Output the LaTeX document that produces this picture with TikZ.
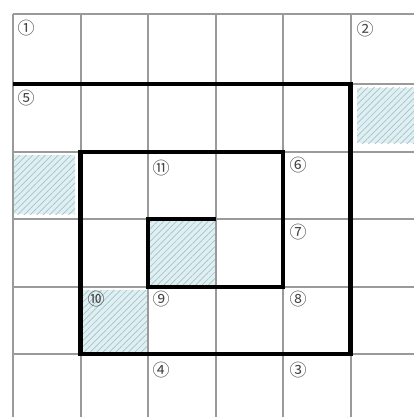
\documentclass[tikz,border=0pt]{standalone}
\usepackage{fontspec}
\newfontfamily\circfont{Noto Sans CJK SC}
\usetikzlibrary{patterns.meta}
\definecolor{gridgray}{HTML}{9A9A9A}
\definecolor{shadefill}{HTML}{DDF1F4}
\definecolor{hatchcol}{HTML}{B0BEC2}
\definecolor{labcol}{HTML}{444444}
\tikzset{
  gridline/.style={draw=gridgray, line width=2pt},
  spiral/.style={draw=black, line width=4.5pt, line join=miter},
  shaded/.style={fill=shadefill, postaction={pattern={Lines[angle=45,distance=4.5pt,line width=0.7pt]}, pattern color=hatchcol}},
  lab/.style={font=\circfont\fontsize{17}{17}\selectfont, text=labcol, inner sep=0pt}
}
\begin{document}
\begin{tikzpicture}[x=1pt,y=-1pt]
\useasboundingbox (0,0) rectangle (414,417);
\fill[white] (0,0) rectangle (414,417);
% shaded cells
\path[shaded] (357,88) rectangle (414,143);
\path[shaded] (14,155) rectangle (75,214);
\path[shaded] (148,219) rectangle (215.5,287);
\path[shaded] (82,290) rectangle (147,352);
% grid
\foreach \x in {13,80.5,148,215.5,283,350.5}
  \draw[gridline] (\x,14) -- (\x,417);
\foreach \y in {14,84,152,219,287,354}
  \draw[gridline] (13,\y) -- (414,\y);
% spiral
\coordinate (s0) at (13,84);
\coordinate (s1) at (350.5,84);
\coordinate (s2) at (350.5,354);
\coordinate (s3) at (80.5,354);
\coordinate (s4) at (80.5,152);
\coordinate (s5) at (283,152);
\coordinate (s6) at (283,287);
\coordinate (s7) at (148,287);
\coordinate (s8) at (148,219);
\coordinate (s9) at (215.5,219);
\draw[spiral] (s0) -- (s1) -- (s2) -- (s3) -- (s4) -- (s5) -- (s6) -- (s7) -- (s8) -- (s9);
% labels
\node[lab] (l1) at (26,28) {①};
\node[lab] (l2) at (365,29) {②};
\node[lab] (l5) at (26,98) {⑤};
\node[lab] (l11) at (161,168) {⑪};
\node[lab] (l6) at (298,165) {⑥};
\node[lab] (l7) at (298,232) {⑦};
\node[lab] (l8) at (298,299) {⑧};
\node[lab] (l9) at (161,299) {⑨};
\node[lab] (l10) at (96,299) {⑩};
\node[lab] (l4) at (161,370) {④};
\node[lab] (l3) at (298,370) {③};
\end{tikzpicture}
\end{document}
